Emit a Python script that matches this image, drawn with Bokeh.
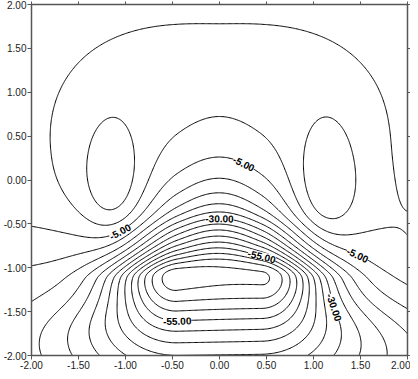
import numpy as np
from bokeh.plotting import figure
from bokeh.models import LinearAxis, FixedTicker, NumeralTickFormatter, ColumnDataSource, LabelSet
from bokeh.core.properties import value
from bokeh.embed import file_html
from bokeh.resources import INLINE

# ---------------- values ----------------
levels = [-75, -70, -65, -60, -55, -50, -45, -40, -35, -30, -25, -20, -15, -10, -5, 0, 5]
tick_values = [-2.0, -1.5, -1.0, -0.5, 0.0, 0.5, 1.0, 1.5, 2.0]

# field description (estimated from the contour pattern)
dome_level = [-1.5, 5.0]                   # level outside the upper plateau, rise inside it
dome_size = [1.70, 1.43, 0.75, 0.35, 0.30]  # half width, height, depth, depth growth, centre y
high_x = [-1.12, 1.12]                     # the two closed side highs
high_y = [-0.10, -0.10]
high_amp = [7.5, 7.5]
high_spread = [0.22, 0.50]
low_centre = [0.0, -1.02]                  # the deep central low
low_amp = -62.5
low_flat = 0.45
low_spread = [0.48, 0.52, 0.16, 0.50, 0.20]  # width, upward decays, downward decay, extra width below
low_bell = [0.8, 0.6]
trough = [-21.0, -2.0, 0.65, 2.2]          # low values along the bottom edge
tilt = [4.0, -1.05, 0.55]                  # left side a little lower than the right

# contour labels: level and the segment on which the labelled line is searched
label_text = ["-5.00", "-5.00", "-5.00", "-30.00", "-30.00", "-55.00", "-55.00"]
label_level = [-5, -5, -5, -30, -30, -55, -55]
label_from = [(0.26, 0.6), (-1.06, -0.3), (1.47, -0.5), (0.0, 0.0), (0.5, -1.45), (0.45, -0.3), (-0.45, -1.1)]
label_to = [(0.26, -0.3), (-1.06, -1.0), (1.47, -1.4), (0.0, -1.0), (1.9, -1.45), (0.45, -1.0), (-0.45, -2.0)]


def sig(t):
    return 0.5 * (1.0 + np.tanh(0.5 * t))


def sech(t):
    return 1.0 / np.cosh(np.clip(t, -50, 50))


def field(x, y):
    ax_, ay_up, ay_dn0, ay_gain, yc = dome_size
    ay = np.where(y > yc, ay_up, ay_dn0 + ay_gain * (x / 1.3) ** 2)
    r = (np.abs(x / ax_) ** 2.5 + np.abs((y - yc) / ay) ** 2.5) ** 0.4
    f = dome_level[0] + dome_level[1] * sig((1 - r) / 0.08)
    for hx, hy, ha in zip(high_x, high_y, high_amp):
        f = f + ha * np.exp(-0.5 * ((x - hx) / high_spread[0]) ** 2 - 0.5 * ((y - hy) / high_spread[1]) ** 2)
    dxs = np.maximum(np.abs(x - low_centre[0]) - low_flat, 0.0)
    dy = y - low_centre[1]
    sx = low_spread[0] + low_spread[4] * sig((-dy - 0.55) / 0.15)
    yw = dy + low_bell[0] * (1 - np.exp(-0.5 * (x / low_bell[1]) ** 2)) * sig((dy - 0.15) / 0.15)
    up = 0.8 * sech(yw / low_spread[1]) + 0.2 * sech(yw / low_spread[2])
    dn = sech(yw / low_spread[3])
    prof = np.where(yw >= 0, up, dn)
    f = f + low_amp * np.exp(-0.5 * (dxs / sx) ** 2) * prof
    f = f + trough[0] * np.exp(-0.5 * ((y - trough[1]) / trough[2]) ** 2) * np.exp(-0.5 * (x / trough[3]) ** 4)
    f = f + tilt[0] * (x / 2.0) * np.exp(-0.5 * ((y - tilt[1]) / tilt[2]) ** 2)
    return f


xs = np.linspace(-2, 2, 321)
ys = np.linspace(-2, 2, 321)
X, Y = np.meshgrid(xs, ys)
Z = field(X, Y)

W, H = 410, 371
BL, BR, BT, BB = 29, 3, 4, 15
p = figure(width=W, height=H, x_range=(-2, 2), y_range=(-2, 2),
           output_backend="svg", toolbar_location=None,
           min_border_left=BL, min_border_right=BR, min_border_top=BT, min_border_bottom=BB)
p.grid.visible = False
p.outline_line_color = "#555555"
p.background_fill_color = "white"
p.border_fill_color = "white"

p.contour(x=xs, y=ys, z=Z, levels=levels, line_color="black", line_width=1)

for ax in [p.xaxis[0], p.yaxis[0]]:
    ax.ticker = FixedTicker(ticks=tick_values)
    ax.formatter = NumeralTickFormatter(format="0.00")
    ax.minor_tick_line_color = None
    ax.major_tick_in = 0
    ax.major_tick_out = 4
    ax.axis_line_color = "#555555"
    ax.axis_line_width = 1.5
    ax.major_tick_line_color = "#555555"
    ax.major_label_text_font = "Liberation Sans"
    ax.major_label_text_font_size = "10px"
    ax.major_label_text_color = "#222222"
    ax.major_label_standoff = 1

# top and right edges: tick marks only (no labels)
for loc in ["above", "right"]:
    a = LinearAxis(ticker=FixedTicker(ticks=[], minor_ticks=tick_values))
    a.major_tick_line_color = None
    a.minor_tick_in = 0
    a.minor_tick_out = 3
    a.minor_tick_line_color = "#555555"
    a.axis_line_color = "#555555"
    a.axis_line_width = 1.5
    a.major_label_standoff = 0
    p.add_layout(a, loc)

# contour labels placed on the computed lines
fw = W - BL - BR
fh = H - BT - BB
kx, ky = fw / 4.0, fh / 4.0
lx, ly, la = [], [], []
for lev, (x0, y0), (x1, y1) in zip(label_level, label_from, label_to):
    t = np.linspace(0, 1, 1201)
    px = x0 + (x1 - x0) * t
    py = y0 + (y1 - y0) * t
    fv = field(px, py) - lev
    idx = np.where(np.sign(fv[:-1]) != np.sign(fv[1:]))[0]
    if len(idx):
        i = idx[0]
        w = fv[i] / (fv[i] - fv[i + 1])
    else:
        i, w = len(t) // 2, 0.0
    cx = px[i] + (px[i + 1] - px[i]) * w
    cy = py[i] + (py[i + 1] - py[i]) * w
    h = 1e-3
    gx = (field(cx + h, cy) - field(cx - h, cy)) / (2 * h)
    gy = (field(cx, cy + h) - field(cx, cy - h)) / (2 * h)
    ang = np.arctan2(gx * ky, -gy * kx)
    if ang > np.pi / 2:
        ang -= np.pi
    if ang <= -np.pi / 2:
        ang += np.pi
    lx.append(float(cx))
    ly.append(float(cy))
    la.append(float(ang))

src = ColumnDataSource(dict(x=lx, y=ly, text=label_text, angle=la))
labels = LabelSet(x="x", y="y", text="text", angle="angle", source=src,
                  text_align="center", text_baseline="middle",
                  text_font=value("Liberation Sans"), text_font_size=value("10px"),
                  text_font_style="bold", text_color="black",
                  background_fill_color="white")
p.add_layout(labels)

open("out.html", "w").write(file_html(p, INLINE))
